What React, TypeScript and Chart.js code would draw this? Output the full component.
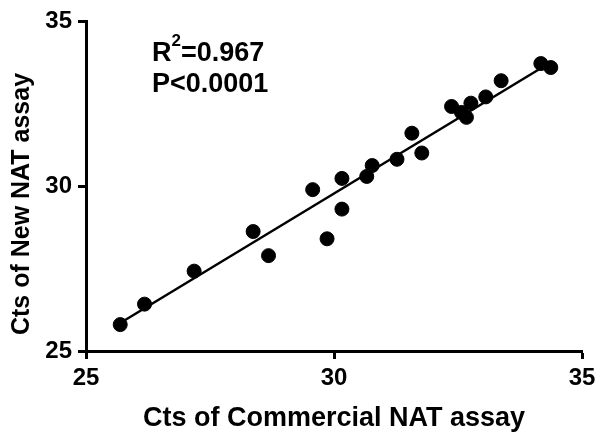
import React, { useEffect, useRef } from "react";
import { Chart, registerables } from "chart.js";

Chart.register(...registerables);

// Commercial NAT assay Ct (x) and New NAT assay Ct (y)
const commercialCt = [
  25.69, 26.18, 27.18, 28.37, 28.68, 29.57, 29.86, 30.16, 30.16, 30.66, 30.77,
  31.27, 31.57, 31.77, 32.37, 32.57, 32.67, 32.76, 33.06, 33.37, 34.17, 34.37,
];
const newCt = [
  25.8, 26.42, 27.42, 28.62, 27.89, 29.89, 28.4, 29.3, 30.23, 30.29, 30.62,
  30.81, 31.6, 31.0, 32.41, 32.23, 32.08, 32.51, 32.7, 33.19, 33.71, 33.59,
];
// Regression line end points
const fitX = [25.69, 34.37];
const fitY = [25.85, 33.75];

const axisTicks = [25, 30, 35];
const xTitle = "Cts of Commercial NAT assay";
const yTitle = "Cts of New NAT assay";
const r2Value = "0.967";
const pText = "P<0.0001";

const FONT = "'Liberation Sans', Arial, Helvetica, sans-serif";

export default function App() {
  const ref = useRef<HTMLCanvasElement>(null);

  useEffect(() => {
    document.body.style.margin = "0";
    if (!ref.current) return;

    const annot = {
      id: "annot",
      afterDraw(chart: any) {
        const ctx = chart.ctx as CanvasRenderingContext2D;
        ctx.save();
        ctx.fillStyle = "#000";
        ctx.textAlign = "left";
        ctx.textBaseline = "alphabetic";
        ctx.font = `bold 27px ${FONT}`;
        let x = 152;
        ctx.fillText("R", x, 61);
        x += ctx.measureText("R").width;
        ctx.font = `bold 17px ${FONT}`;
        ctx.fillText("2", x, 46);
        x += ctx.measureText("2").width;
        ctx.font = `bold 27px ${FONT}`;
        ctx.fillText("=" + r2Value, x, 61);
        ctx.fillText(pText, 152, 92);

        // rotated y-axis title
        ctx.translate(22, 204);
        ctx.rotate(-Math.PI / 2);
        ctx.textAlign = "center";
        ctx.textBaseline = "middle";
        ctx.font = `bold 25px ${FONT}`;
        ctx.fillText(yTitle, 0, 0);
        ctx.restore();
      },
    };

    const tickFont = { family: FONT, size: 24, weight: "bold" as const };

    const chart = new Chart(ref.current, {
      type: "scatter",
      data: {
        datasets: [
          {
            data: commercialCt.map((x, i) => ({ x, y: newCt[i] })),
            backgroundColor: "#000",
            borderColor: "#000",
            pointRadius: 7,
            pointHoverRadius: 7,
            order: 0,
          },
          {
            data: fitX.map((x, i) => ({ x, y: fitY[i] })),
            showLine: true,
            borderColor: "#000",
            borderWidth: 2.5,
            pointRadius: 0,
            fill: false,
            order: 1,
          },
        ],
      },
      options: {
        responsive: false,
        animation: false,
        layout: { padding: { top: 21, right: 22, left: 0, bottom: 0 } },
        plugins: {
          legend: { display: false },
          tooltip: { enabled: false },
        },
        scales: {
          x: {
            type: "linear",
            min: 25,
            max: 35,
            afterBuildTicks: (s: any) => {
              s.ticks = axisTicks.map((v) => ({ value: v }));
            },
            afterFit: (s: any) => {
              s.height = 94;
            },
            grid: {
              drawOnChartArea: false,
              drawTicks: true,
              tickLength: 8,
              tickWidth: 3,
              tickColor: "#000",
              color: "#000",
            },
            border: { display: true, color: "#000", width: 3 },
            ticks: { color: "#000", font: tickFont, padding: 5, maxRotation: 0 },
            title: {
              display: true,
              text: xTitle,
              color: "#000",
              font: { family: FONT, size: 27, weight: "bold" },
              padding: { top: 0, bottom: 10 },
            },
          },
          y: {
            type: "linear",
            min: 25,
            max: 35,
            afterBuildTicks: (s: any) => {
              s.ticks = axisTicks.map((v) => ({ value: v }));
            },
            afterFit: (s: any) => {
              s.width = 86;
            },
            grid: {
              drawOnChartArea: false,
              drawTicks: true,
              tickLength: 8,
              tickWidth: 3,
              tickColor: "#000",
              color: "#000",
            },
            border: { display: true, color: "#000", width: 3 },
            ticks: { color: "#000", font: tickFont, padding: 6 },
          },
        },
      },
      plugins: [annot],
    });

    return () => chart.destroy();
  }, []);

  return (
    <div style={{ width: 604, height: 445 }}>
      <canvas ref={ref} width={604} height={445} style={{ display: "block" }} />
    </div>
  );
}
